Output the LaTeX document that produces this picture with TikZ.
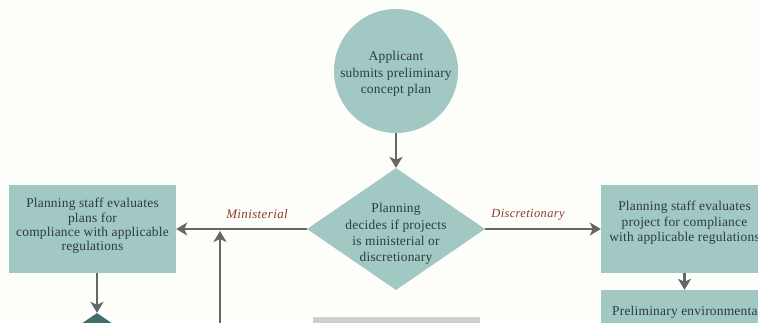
\documentclass[tikz,border=0pt]{standalone}
\usepackage{fontspec}
\setmainfont{Liberation Serif}
\newfontfamily\boxfont[LetterSpace=1.5]{Liberation Serif}
\newfontfamily\labfont[LetterSpace=3]{Liberation Serif}
\usetikzlibrary{shapes.geometric,arrows.meta}
\definecolor{bgc}{HTML}{FDFDF9}
\definecolor{tealf}{HTML}{A2C8C4}
\definecolor{darkteal}{HTML}{3F6F6D}
\definecolor{linec}{HTML}{666666}
\definecolor{txtc}{HTML}{2E3B3B}
\definecolor{labc}{HTML}{8A3A2C}
\definecolor{grayf}{HTML}{D0D0CA}
\tikzset{
  flow/.style={draw=linec, line width=2.3bp, -{Stealth[length=11bp,width=13bp,inset=3bp]}},
  boxnode/.style={rectangle, fill=tealf, draw=none, inner sep=0pt, minimum width=167bp, minimum height=88bp},
  txt/.style={text=txtc, align=center, font=\boxfont\fontsize{13.5}{14.3}\selectfont, inner sep=0pt},
  txtwide/.style={txt, font=\boxfont\fontsize{13.5}{16.5}\selectfont},
  lab/.style={text=labc, font=\labfont\itshape\fontsize{13}{15}\selectfont, inner sep=0pt},
}
\begin{document}
\begin{tikzpicture}[x=1bp,y=-1bp]
\clip (0,0) rectangle (758,322);
\fill[bgc] (0,0) rectangle (758,322);
% shapes
\node[circle, fill=tealf, inner sep=0pt, minimum size=124bp] (app) at (396,71) {};
\node[txtwide] (apptxt) at (396,74) {Applicant\\submits preliminary\\concept plan};
\node[diamond, fill=tealf, inner sep=0pt, minimum width=178bp, minimum height=122bp] (dec) at (396,229) {};
\node[txtwide] (dectxt) at (396,234) {Planning\\decides if projects\\is ministerial or\\discretionary};
\node[boxnode] (lbox) at (92.5,229) {};
\node[txt] (lboxtxt) at (92.5,226) {Planning staff evaluates\\plans for\\compliance with applicable\\regulations};
\node[boxnode] (rbox) at (684.5,229) {};
\node[txt, font=\boxfont\fontsize{13.5}{15.6}\selectfont] (rboxtxt) at (684.5,223) {Planning staff evaluates\\project for compliance\\with applicable regulations};
\node[boxnode] (envbox) at (684.5,334) {};
\node[txt, anchor=west] (envtxt) at (612,312) {Preliminary environmental};
\node[diamond, fill=darkteal, inner sep=0pt, minimum width=88bp, minimum height=60bp] (d2) at (97,343) {};
\node[rectangle, fill=grayf, inner sep=0pt, minimum width=167bp, minimum height=40bp, anchor=north west] (grect) at (313,317) {};
% labels
\node[lab] (min) at (257,214) {Ministerial};
\node[lab, font=\labfont\itshape\fontsize{12.5}{15}\selectfont] (disc) at (528,215) {Discretionary};
% connectors
\coordinate (vbot) at (220,330);
\coordinate (vtop) at (220,231);
\draw[flow] (app) -- (dec.north);
\draw[flow] (dec.west) -- (lbox.east);
\draw[flow] (dec.east) -- (rbox.west);
\draw[flow] (vbot) -- (vtop);
\draw[flow] (lbox.south -| d2.north) -- (d2.north);
\draw[flow] (rbox.south) -- (envbox.north);
\end{tikzpicture}
\end{document}
